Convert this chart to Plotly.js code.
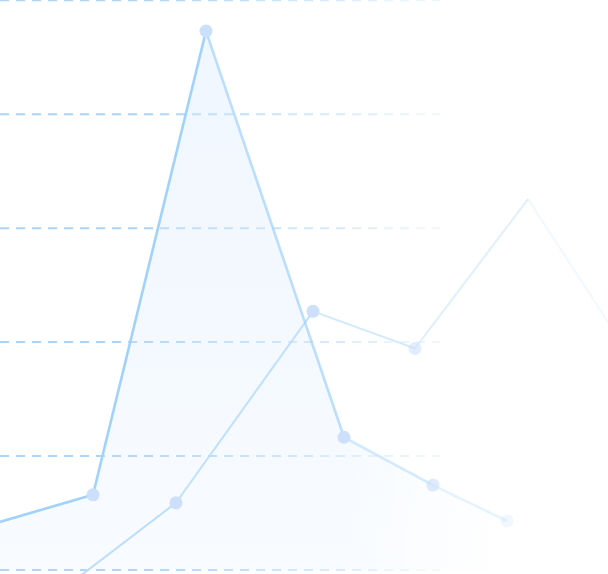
<!DOCTYPE html>
<html>
<head>
<meta charset="utf-8">
<script src="https://cdn.plot.ly/plotly-3.0.1.min.js"></script>
<style>
  html, body { margin: 0; padding: 0; background: #fff; }
  #chart { width: 608px; height: 574px; }
</style>
</head>
<body>
<div id="chart"></div>
<script>
// values
var gridValues = [0, 20, 40, 60, 80, 100]

var mainX = [-7, 9.3, 20.6, 34.4, 43.3, 50.7]
var mainY = [4.9, 13.2, 94.6, 23.3, 14.9, 8.6]

var otherX = [0, 17.6, 31.3, 41.5, 52.8, 66]
var otherY = [-11.8, 11.8, 45.4, 38.9, 65.1, 29.5]

function clamp(v, lo, hi) { return Math.max(lo, Math.min(hi, v)) }
function rgba(rgb, a) { return 'rgba(' + rgb + ',' + a.toFixed(3) + ')' }

// fade to the right: alpha from the x position (in axis units)
function fadeMain(x) { return clamp(1 - (x - 15) / 43, 0, 1) }
function fadeOther(x) { return clamp(1 - (x - 20) / 50, 0.2, 1) }
function fadeGrid(x) { return clamp(1 - (x - 15) / 34, 0.2, 1) }

var data = []

// area under the main line, lighter towards the bottom
data.push({
    x: mainX,
    y: mainY,
    type: 'scatter',
    mode: 'lines',
    line: { width: 0 },
    fill: 'tozeroy',
    fillgradient: {
        type: 'vertical',
        start: 0,
        stop: 95,
        colorscale: [[0, 'rgba(214,232,253,0.17)'], [1, 'rgba(214,232,253,0.38)']]
    },
    hoverinfo: 'skip',
    showlegend: false
})

// same area again in white, so the fill dies out to the right
data.push({
    x: mainX,
    y: mainY,
    type: 'scatter',
    mode: 'lines',
    line: { width: 0 },
    fill: 'tozeroy',
    fillgradient: {
        type: 'horizontal',
        start: 34,
        stop: 51,
        colorscale: [[0, 'rgba(255,255,255,0)'], [1, 'rgba(255,255,255,1)']]
    },
    hoverinfo: 'skip',
    showlegend: false
})

// lines drawn segment by segment so each piece gets its own fade
function addSegments(xs, ys, rgb, width, fade) {
    for (i = 0; i < xs.length - 1; i++) {
        var mid = (xs[i] + xs[i + 1]) / 2
        data.push({
            x: [xs[i], xs[i + 1]],
            y: [ys[i], ys[i + 1]],
            type: 'scatter',
            mode: 'lines',
            line: { color: rgba(rgb, fade(mid)), width: width },
            hoverinfo: 'skip',
            showlegend: false
        })
    }
}

addSegments(otherX, otherY, '186,222,251', 2, fadeOther)
addSegments(mainX, mainY, '160,210,251', 2.6, fadeMain)

// markers, only up to x = 52
function addMarkers(xs, ys, fade) {
    data.push({
        x: xs,
        y: ys,
        type: 'scatter',
        mode: 'markers',
        marker: {
            size: 13,
            color: xs.map(function (x) { return rgba('204,224,251', x > 52 ? 0 : fade(x)) }),
            line: { width: 0 }
        },
        hoverinfo: 'skip',
        showlegend: false
    })
}

addMarkers(otherX, otherY, function (x) { return clamp(1 - (x - 32) / 22, 0, 1) })
addMarkers(mainX, mainY, function (x) { return clamp(1 - (x - 36) / 20, 0, 1) })

// dashed grid lines fading out to the right
var shapes = []
var gridEnd = 44, step = 3.2
gridValues.forEach(function (g) {
    for (var x0 = 0; x0 < gridEnd; x0 += step) {
        var x1 = Math.min(x0 + step, gridEnd)
        shapes.push({
            type: 'line',
            layer: 'below',
            xref: 'x', yref: 'y',
            x0: x0, x1: x1, y0: g, y1: g,
            line: { color: rgba('172,212,247', fadeGrid((x0 + x1) / 2)), width: 2, dash: '9px,7px' }
        })
    }
})

var layout = {
    width: 608,
    height: 574,
    margin: { t: 0, l: 0, r: 0, b: 0, pad: 0 },
    paper_bgcolor: '#ffffff',
    plot_bgcolor: '#ffffff',
    showlegend: false,
    hovermode: false,
    xaxis: {
        range: [0, 60.8],
        visible: false,
        showgrid: false,
        zeroline: false,
        fixedrange: true
    },
    yaxis: {
        range: [-0.7, 100.05],
        visible: false,
        showgrid: false,
        zeroline: false,
        fixedrange: true
    },
    shapes: shapes
}

Plotly.newPlot('chart', data, layout, { displayModeBar: false, staticPlot: true })
</script>
</body>
</html>
